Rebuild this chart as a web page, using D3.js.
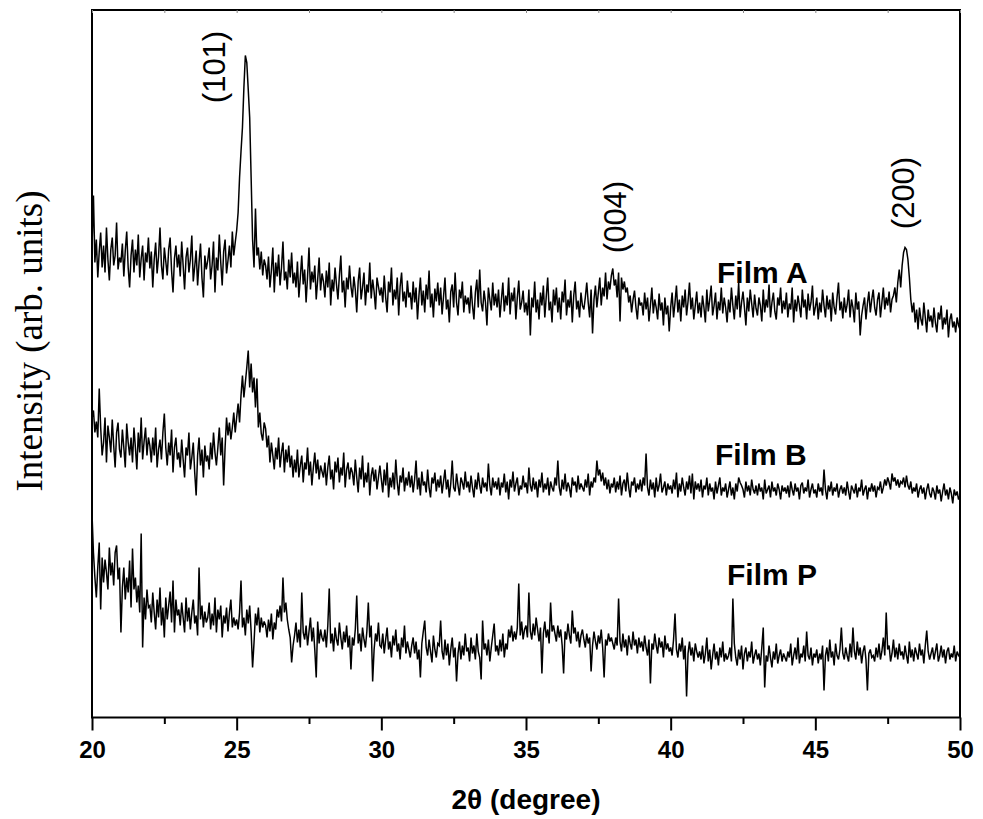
<!DOCTYPE html>
<html><head><meta charset="utf-8">
<script src="https://cdn.jsdelivr.net/npm/d3@7"></script>
<style>html,body{margin:0;padding:0;background:#fff}svg{display:block}</style>
</head><body>
<svg id="chart" width="983" height="819"></svg>
<script>
// 2θ sampling grid (degrees)
const twoThetaStart = 20;
const twoThetaStep = 0.05;
const xMajorTicks = [20, 25, 30, 35, 40, 45, 50];
const xMinorTicks = [22.5, 27.5, 32.5, 37.5, 42.5, 47.5];
const seriesNames = ["Film A", "Film B", "Film P"];
const peakLabels = ["(101)", "(004)", "(200)"];

// intensities (arb. units), one row per degree, 0.05° steps
const filmA = [
470,522,455,478,440,466,485,450,472,445,490,458,437,468,480,452,462,495,448,460,
455,474,441,467,486,450,430,462,478,445,468,452,483,440,459,472,437,465,455,480,
449,466,430,458,475,444,461,490,452,438,470,456,442,468,480,447,425,459,472,450,
463,441,476,452,428,460,470,445,458,482,436,451,467,432,455,474,440,420,462,448,
457,470,438,452,476,425,460,447,483,455,432,466,478,444,457,472,450,486,462,475,
487,505,540,566,590,630,662,655,628,600,540,478,450,509,462,470,448,466,442,458,
452,438,461,430,447,470,425,455,441,463,432,450,476,437,446,428,458,440,465,434,
445,430,456,420,440,462,433,448,415,441,470,428,446,435,452,418,438,460,427,444,
436,420,447,430,455,412,438,426,450,433,418,442,462,425,437,410,440,428,452,431,
420,441,428,405,436,450,418,430,445,412,433,425,455,419,438,426,408,440,431,422,
430,415,442,420,405,436,425,450,412,428,418,440,402,431,445,416,426,410,437,420,
425,408,436,415,430,398,422,440,412,427,405,433,418,447,410,424,400,429,416,435,
412,430,403,421,440,408,418,395,426,433,410,445,415,402,428,419,436,405,422,413,
420,404,432,412,398,425,438,410,448,415,406,427,415,392,430,418,407,435,412,424,
410,428,400,418,435,406,422,412,440,403,425,416,430,398,420,437,408,415,427,405,
415,402,428,382,420,410,436,405,418,398,425,412,432,400,421,440,407,416,395,428,
412,430,405,420,398,426,415,438,402,418,410,427,395,422,436,408,417,400,425,412,
408,420,435,415,400,428,384,418,432,410,425,440,412,430,421,445,418,436,428,442,
449,432,438,420,445,396,440,428,436,425,430,415,422,405,418,427,410,398,420,412,
415,402,425,408,420,396,412,430,404,418,410,398,424,407,415,392,420,403,412,386,
410,425,400,415,432,405,418,396,422,410,428,402,416,435,408,420,398,412,426,404,
415,400,422,410,395,428,406,418,432,402,412,425,398,416,407,430,404,420,410,395,
418,405,430,412,398,422,408,435,400,415,426,410,392,420,406,428,414,400,423,409,
402,420,412,396,428,405,418,410,433,400,415,425,406,398,420,412,430,404,417,408,
425,400,414,408,430,395,418,406,422,412,400,428,410,418,398,424,407,415,432,402,
410,420,398,415,405,428,412,400,422,408,418,396,425,410,403,420,435,407,416,399,
420,405,413,428,400,418,410,395,425,408,416,382,402,412,420,398,414,426,405,418,
428,410,402,418,425,400,415,430,408,420,412,426,405,418,422,430,415,435,448,430,
452,465,470,468,458,440,418,405,415,395,408,388,410,398,392,415,400,385,408,396,
402,390,410,395,385,405,398,412,388,400,393,408,380,398,404,390,396,385,400,392,
388];

const filmB = [
300,307,285,296,280,329,290,262,275,300,255,292,280,265,298,272,250,285,295,268,
260,288,270,250,294,275,262,280,255,290,270,248,285,265,300,258,276,290,262,280,
272,255,280,262,290,250,268,278,258,285,304,270,252,275,262,288,245,270,280,258,
265,250,278,258,240,270,262,285,248,260,275,245,222,262,280,252,268,240,272,256,
262,248,275,258,285,265,252,270,290,262,280,232,270,300,282,295,278,290,305,285,
300,314,295,322,342,320,335,350,367,330,354,325,340,310,339,290,305,284,277,295,
289,270,282,255,275,262,248,270,258,280,250,265,275,245,268,255,272,250,262,240,
258,245,268,240,252,262,235,255,248,270,242,256,232,250,265,244,258,238,252,246,
240,255,232,250,262,238,248,228,256,245,260,235,250,242,265,230,248,255,238,250,
245,232,258,240,225,250,238,262,230,245,235,255,222,242,250,236,248,228,240,252,
238,225,248,232,255,220,240,230,245,228,258,235,222,242,235,250,226,240,232,246,
230,242,225,238,257,228,240,222,246,232,236,225,248,230,220,240,234,245,226,238,
230,242,224,236,248,228,238,220,234,257,230,226,244,232,222,240,235,228,246,230,
236,225,242,230,220,238,228,245,232,224,240,230,235,226,254,232,222,240,230,236,
228,240,222,235,230,244,225,236,218,238,230,246,226,234,240,222,232,228,242,230,
235,224,250,232,226,240,228,236,220,238,230,245,225,234,228,240,222,236,230,226,
240,232,257,230,222,238,228,244,226,235,230,220,240,232,236,225,242,228,234,230,
226,238,230,244,222,236,230,240,235,257,242,248,236,245,232,240,228,238,224,234,
230,240,225,236,228,242,222,234,238,226,245,230,220,236,232,240,225,234,228,238,
226,240,232,264,230,222,238,228,235,220,240,226,232,244,225,230,236,222,234,228,
232,224,238,228,245,220,234,226,240,230,222,236,228,242,224,244,218,236,228,234,
226,238,220,232,228,240,222,234,226,230,218,236,224,232,240,222,230,226,234,220,
228,236,222,230,218,234,226,240,235,232,228,220,236,226,232,222,238,228,224,232,
222,234,226,230,218,238,224,228,232,220,236,226,230,222,234,228,218,232,226,230,
224,232,220,236,228,222,234,226,230,218,232,235,224,230,226,238,220,228,234,224,
228,220,234,226,230,222,248,228,218,232,226,236,222,230,226,234,220,228,232,224,
230,222,236,226,218,232,228,224,234,220,230,226,238,222,228,232,218,230,226,234,
226,232,220,230,228,236,224,230,238,232,240,235,228,244,236,240,232,238,230,236,
234,240,230,242,232,228,236,224,230,226,234,220,228,232,224,230,218,228,234,224,
220,230,226,218,232,224,228,216,226,234,222,228,218,230,224,214,228,222,226,218,
222];

const filmP = [
204,165,140,120,150,175,108,160,135,158,145,128,170,142,155,132,165,172,138,150,
85,130,150,118,140,125,157,110,169,128,140,115,132,105,184,70,120,98,128,110,
112,95,125,105,88,118,100,130,92,110,80,120,98,112,126,95,137,85,118,102,
108,92,115,100,85,120,96,110,88,105,118,94,102,82,150,98,112,90,106,95,
100,115,88,104,92,120,85,108,98,112,80,102,94,110,86,105,118,90,100,92,
98,88,105,137,90,100,82,108,94,112,86,50,75,104,92,110,85,100,90,96,
92,80,98,86,104,78,95,88,108,100,112,96,140,105,115,98,88,80,55,72,
82,95,75,88,70,125,85,78,92,72,86,100,76,90,68,40,96,74,88,80,
76,88,70,92,129,74,84,66,90,78,72,95,80,68,86,75,92,70,82,48,
80,72,88,122,74,84,66,90,78,70,86,115,80,92,36,68,84,76,95,72,
70,84,64,78,90,68,76,60,82,72,88,66,74,58,80,70,92,64,76,68,
60,72,80,64,76,58,68,40,74,86,97,70,62,78,66,55,82,68,60,74,
72,97,66,58,78,62,74,52,68,80,60,70,36,64,76,58,72,62,84,66,
70,56,80,64,72,58,84,66,60,38,97,68,74,62,78,56,70,82,94,66,
72,62,78,66,84,60,74,68,88,80,92,76,86,78,90,134,82,96,78,88,
92,80,125,86,78,94,82,100,88,76,90,44,84,96,80,88,74,115,86,92,
84,76,92,80,88,72,44,86,78,94,82,74,107,84,90,76,86,70,82,88,
78,70,84,74,80,46,72,86,76,68,82,74,88,70,40,78,72,84,76,80,
74,68,80,72,119,76,66,84,70,78,62,82,74,68,86,72,78,64,80,70,
76,66,82,70,62,78,34,74,68,84,72,64,80,70,76,60,82,68,74,66,
70,62,78,104,68,60,74,66,80,58,72,21,64,76,62,70,56,74,66,60,
66,58,72,54,64,80,56,68,48,62,74,58,66,52,70,60,76,56,64,58,
62,70,56,119,74,60,52,68,58,72,48,64,70,56,66,60,76,54,62,68,
58,64,52,70,90,30,62,56,72,60,50,66,58,74,54,62,68,56,64,60,
56,66,60,74,52,62,70,58,80,54,64,60,72,56,86,62,58,70,52,64,
60,68,54,64,58,72,27,62,70,56,78,60,66,52,74,62,58,68,90,64,
58,70,62,56,74,60,90,66,58,76,62,70,54,66,72,58,27,64,68,60,
62,56,70,60,74,58,66,80,62,105,68,72,56,64,78,60,70,58,74,62,
66,58,72,62,54,76,60,68,56,70,64,58,74,62,68,54,72,87,66,58,
64,70,58,66,74,56,62,72,60,68,54,66,70,58,64,60,72,56,66,62,
60];

const svg = d3.select("#chart");
const pLeft = 92, pRight = 960, pTop = 10, pBottom = 717.5;

const x = d3.scaleLinear().domain([20, 50]).range([pLeft, pRight]);
const y = d3.scaleLinear().domain([0, 707.5]).range([pBottom, pTop]);

const line = d3.line()
  .x((d, i) => x(twoThetaStart + i * twoThetaStep))
  .y(d => y(d));

[filmA, filmB, filmP].forEach(s => {
  svg.append("path").datum(s)
    .attr("d", line)
    .attr("fill", "none")
    .attr("stroke", "#000")
    .attr("stroke-width", 1.5)
    .attr("stroke-linejoin", "miter")
    .attr("stroke-miterlimit", 3);
});

// frame
svg.append("rect")
  .attr("x", pLeft).attr("y", pTop)
  .attr("width", pRight - pLeft).attr("height", pBottom - pTop)
  .attr("fill", "none").attr("stroke", "#000").attr("stroke-width", 2);

// bottom axis: major ticks with labels
const gMaj = svg.append("g").attr("transform", `translate(0,${pBottom})`)
  .call(d3.axisBottom(x).tickValues(xMajorTicks).tickSize(13).tickPadding(10).tickFormat(d3.format("d")));
gMaj.select(".domain").remove();
gMaj.selectAll(".tick line").attr("stroke", "#000").attr("stroke-width", 2);
gMaj.selectAll(".tick text")
  .attr("font-family", "Liberation Sans, Arial, sans-serif")
  .attr("font-weight", "bold").attr("font-size", 24).attr("fill", "#000");

// minor ticks
const gMin = svg.append("g").attr("transform", `translate(0,${pBottom})`)
  .call(d3.axisBottom(x).tickValues(xMinorTicks).tickSize(6.5).tickFormat(""));
gMin.select(".domain").remove();
gMin.selectAll(".tick line").attr("stroke", "#000").attr("stroke-width", 2);

// top axis small inner ticks
const gTop = svg.append("g").attr("transform", `translate(0,${pTop})`)
  .call(d3.axisBottom(x).tickValues(xMajorTicks.concat(xMinorTicks)).tickSize(3).tickFormat(""));
gTop.select(".domain").remove();
gTop.selectAll(".tick line").attr("stroke", "#888").attr("stroke-width", 1);

// axis titles
svg.append("text")
  .attr("x", (pLeft + pRight) / 2).attr("y", 809)
  .attr("text-anchor", "middle")
  .attr("font-family", "Liberation Sans, Arial, sans-serif")
  .attr("font-weight", "bold").attr("font-size", 28)
  .text("2θ (degree)");

svg.append("text")
  .attr("transform", "translate(42,341) rotate(-90)")
  .attr("text-anchor", "middle")
  .attr("font-family", "Liberation Serif, Times New Roman, serif")
  .attr("font-size", 37)
  .text("Intensity (arb. units)");

// peak labels
const peakLabelPos = [[225, 67], [626, 217], [914, 193]];
peakLabels.forEach((t, i) => {
  svg.append("text")
    .attr("transform", `translate(${peakLabelPos[i][0]},${peakLabelPos[i][1]}) rotate(-90)`)
    .attr("text-anchor", "middle")
    .attr("font-family", "Liberation Sans, Arial, sans-serif")
    .attr("font-size", 31)
    .text(t);
});

// series labels
const seriesLabelPos = [[717, 283], [715, 465], [727, 585]];
seriesNames.forEach((t, i) => {
  svg.append("text")
    .attr("x", seriesLabelPos[i][0]).attr("y", seriesLabelPos[i][1])
    .attr("font-family", "Liberation Sans, Arial, sans-serif")
    .attr("font-weight", "bold").attr("font-size", 30)
    .text(t);
});
</script>
</body></html>
